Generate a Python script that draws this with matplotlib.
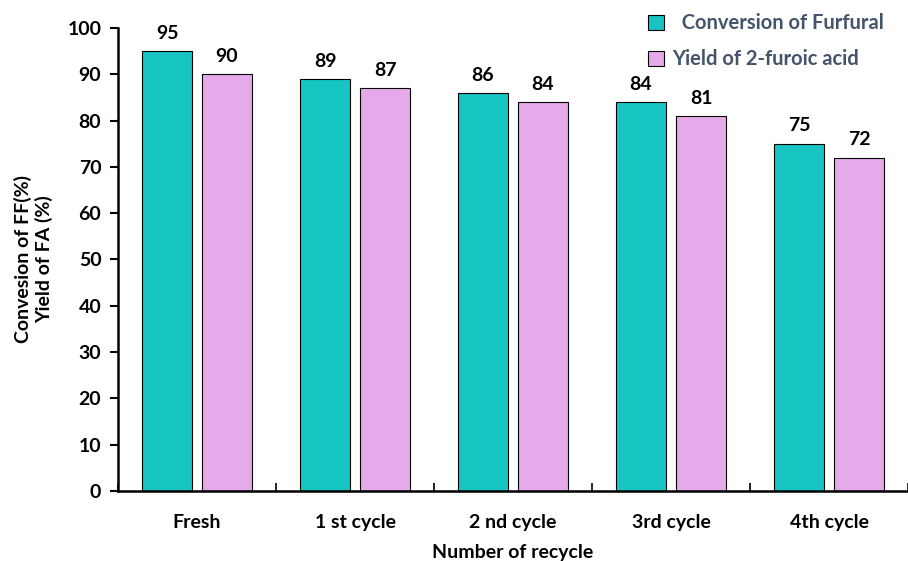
import matplotlib
matplotlib.use("Agg")
import matplotlib.pyplot as plt
import numpy as np

plt.rcParams['font.family'] = ['Lato', 'DejaVu Sans']
plt.rcParams['font.weight'] = 'bold'

categories = ["Fresh", "1 st cycle", "2 nd cycle", "3rd cycle", "4th cycle"]
conversion = [95, 89, 86, 84, 75]
yield_fa = [90, 87, 84, 81, 72]
series_names = ["  Conversion of Furfural", "Yield of 2-furoic acid"]
yticks = [0, 10, 20, 30, 40, 50, 60, 70, 80, 90, 100]

teal = "#17C5C3"
pink = "#E6AAEA"
fs = 14

fig = plt.figure(figsize=(9.08, 5.61), dpi=100)
ax = fig.add_axes([0.130, 0.125, 0.870, 0.825])

x = np.arange(len(categories))
w = 0.316
off = 0.19
b1 = ax.bar(x - off, conversion, w, color=teal, edgecolor="black", linewidth=0.8,
            label=series_names[0])
b2 = ax.bar(x + off, yield_fa, w, color=pink, edgecolor="black", linewidth=0.8,
            label=series_names[1])

for bars, vals in ((b1, conversion), (b2, yield_fa)):
    for r, v in zip(bars, vals):
        ax.text(r.get_x() + r.get_width() / 2, v + 2.0, f"{v}", ha="center",
                va="bottom", fontsize=fs, fontweight="bold")

ax.set_xlim(-0.5, len(categories) - 0.5)
ax.set_ylim(0, 100)
ax.set_yticks(yticks)
ax.tick_params(axis="y", direction="out", length=6, width=1.5, labelsize=fs, pad=6)

# category labels centred, ticks at the group boundaries
ax.set_xticks(x)
ax.set_xticklabels(categories, fontsize=fs, fontweight="bold")
ax.tick_params(axis="x", length=0, pad=17)
ax.set_xticks(np.arange(len(categories) + 1) - 0.5, minor=True)
ax.tick_params(axis="x", which="minor", direction="in", length=6, width=1.2)

for s in ("top", "right"):
    ax.spines[s].set_visible(False)
for s in ("left", "bottom"):
    ax.spines[s].set_linewidth(1.8)

ax.set_ylabel("Convesion of FF(%)\nYield of FA (%)", fontsize=fs, fontweight="bold",
              labelpad=10)
ax.set_xlabel("Number of recycle", fontsize=fs, fontweight="bold", labelpad=9)

leg = ax.legend(loc="upper right", bbox_to_anchor=(0.985, 1.058), frameon=False,
                fontsize=fs + 0.5, handlelength=0.8, handleheight=0.8,
                handletextpad=0.4, labelspacing=0.8, borderaxespad=0.2)
for t in leg.get_texts():
    t.set_color("#44546A")
    t.set_fontweight("bold")

fig.savefig("out.png", dpi=100)
